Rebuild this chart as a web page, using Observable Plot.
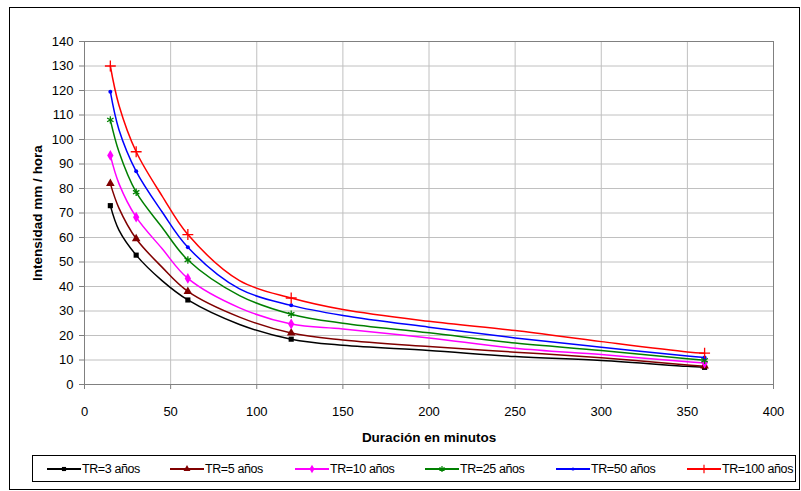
<!DOCTYPE html>
<html><head><meta charset="utf-8">
<script src="https://cdn.jsdelivr.net/npm/d3@7"></script>
<script src="https://cdn.jsdelivr.net/npm/@observablehq/plot@0.6"></script>
<style>
body{margin:0;background:#fff;}
#wrap{position:relative;width:801px;height:491px;overflow:hidden;font-family:"Liberation Sans",Arial,sans-serif;color:#000;}
#chart{position:absolute;left:0;top:0;}
#border{position:absolute;left:9px;top:7px;width:791px;height:483px;border:1px solid #000;box-sizing:border-box;pointer-events:none;}
#legend{position:absolute;left:32px;top:455px;width:764px;height:27px;border:1px solid #000;box-sizing:border-box;background:#fff;}
.item{position:absolute;top:0;height:25px;display:flex;align-items:center;font-size:12.5px;letter-spacing:-0.4px;white-space:nowrap;}
.item svg{margin-right:1px;}
</style>
</head><body>
<div id="wrap"><div id="chart"></div><div id="border"></div><div id="legend"></div></div>
<script>
const durations = [15, 20, 30, 45, 60, 90, 120, 150, 200, 250, 300, 350, 360];
const markerDurations = [15, 30, 60, 120, 360];
const seriesNames = ["TR=3 años", "TR=5 años", "TR=10 años", "TR=25 años", "TR=50 años", "TR=100 años"];
const seriesColors = ["#000000", "#800000", "#ff00ff", "#008000", "#0000ff", "#ff0000"];
const seriesSymbols = ["square", "triangle", "diamond", "asterisk", "circle", "plus"];
const tr3   = [73,   63,  52.8, 42.4, 34.5, 24.5, 18.5, 16.0, 13.9, 11.4,  9.8,  7.4,  7.0];
const tr5   = [82,   72,  59.5, 47.9, 38.0, 27.5, 21.0, 18.2, 15.5, 13.2, 10.9,  8.0,  7.5];
const tr10  = [93.5, 82,  68.3, 55.5, 43.3, 31.3, 24.7, 22.7, 19.0, 14.8, 12.2,  9.3,  8.8];
const tr25  = [108,  95,  78.5, 64.2, 50.8, 36.3, 28.7, 25.0, 21.1, 16.9, 13.9, 10.5,  9.9];
const tr50  = [119.5,104, 87.0, 70.5, 56.0, 39.0, 32.3, 28.2, 23.4, 19.0, 15.2, 11.6, 11.0];
const tr100 = [130,  114, 95.0, 77.0, 61.2, 42.4, 35.3, 30.6, 25.8, 22.0, 17.5, 13.3, 12.8];
const xTicks = [0, 50, 100, 150, 200, 250, 300, 350, 400];
const yTicks = [0, 10, 20, 30, 40, 50, 60, 70, 80, 90, 100, 110, 120, 130, 140];
const legendLeft = [46, 169, 294, 424, 555, 686];

const allSeries = [tr3, tr5, tr10, tr25, tr50, tr100];
const rows = allSeries.flatMap((vals, i) => durations.map((d, j) => ({serie: seriesNames[i], dur: d, val: vals[j]})));
const markerRows = rows.filter(r => markerDurations.includes(r.dur));
const strokedSym = new Set(["asterisk", "plus"]);
const symOf = s => seriesSymbols[seriesNames.indexOf(s)];
const sizeOf = {square: 2.9, triangle: 3.2, diamond: 3.3, asterisk: 3.5, circle: 2, plus: 3.6};

const marks = [
  Plot.gridX(xTicks, {stroke: "#c0c0c0", strokeOpacity: 1}),
  Plot.gridY(yTicks, {stroke: "#c0c0c0", strokeOpacity: 1}),
  Plot.frame({stroke: "#808080"}),
  Plot.axisX(xTicks, {tickSize: 5, tickPadding: 17, stroke: "#808080", fill: "#000", label: null, fontSize: 13}),
  Plot.axisY(yTicks, {tickSize: 5, tickPadding: 6, stroke: "#808080", fill: "#000", label: null, fontSize: 13}),
  Plot.line(rows, {x: "dur", y: "val", z: "serie", stroke: "serie", strokeWidth: 1.5, curve: "catmull-rom"})
];
for (const s of seriesNames) {
  const sym = symOf(s);
  const data = markerRows.filter(r => r.serie === s);
  if (strokedSym.has(sym)) {
    marks.push(Plot.dot(data, {x: "dur", y: "val", symbol: "serie", stroke: "serie", strokeWidth: 1.3, r: sizeOf[sym]}));
  } else {
    marks.push(Plot.dot(data, {x: "dur", y: "val", symbol: "serie", fill: "serie", r: sizeOf[sym]}));
  }
}
marks.push(
  Plot.text(["Intensidad mm / hora"], {text: d => d, frameAnchor: "left", textAnchor: "middle", lineAnchor: "middle", dx: -47, rotate: -90, fontWeight: "bold", fontSize: 13.5, fill: "#000"}),
  Plot.text(["Duración en minutos"], {text: d => d, frameAnchor: "bottom", textAnchor: "middle", lineAnchor: "middle", dy: 53, fontWeight: "bold", fontSize: 13.5, fill: "#000"})
);

const chart = Plot.plot({
  width: 801, height: 445,
  marginTop: 41, marginLeft: 84, marginRight: 28, marginBottom: 61,
  style: {fontFamily: "'Liberation Sans', Arial, sans-serif", fontSize: "13px", color: "#000", background: "transparent"},
  x: {domain: [0, 400]},
  y: {domain: [0, 140]},
  color: {domain: seriesNames, range: seriesColors},
  symbol: {domain: seriesNames, range: seriesSymbols},
  marks
});
document.getElementById("chart").appendChild(chart);

// legend
const symMap = {square: d3.symbolSquare, triangle: d3.symbolTriangle, diamond: d3.symbolDiamond, asterisk: d3.symbolAsterisk, circle: d3.symbolCircle, plus: d3.symbolPlus};
const legend = document.getElementById("legend");
seriesNames.forEach((s, i) => {
  const sym = seriesSymbols[i];
  const col = seriesColors[i];
  const r = sizeOf[sym] * 0.8;
  const path = d3.symbol(symMap[sym], Math.PI * r * r)();
  const div = document.createElement("div");
  div.className = "item";
  div.style.left = (legendLeft[i] - 32) + "px";
  const fillAttr = strokedSym.has(sym) ? `fill="none" stroke="${col}" stroke-width="1.2"` : `fill="${col}"`;
  div.innerHTML = `<svg width="34" height="12"><line x1="0" x2="34" y1="6" y2="6" stroke="${col}" stroke-width="2"/><path transform="translate(17,6)" d="${path}" ${fillAttr}/></svg><span>${s}</span>`;
  legend.appendChild(div);
});
</script>
</body></html>
